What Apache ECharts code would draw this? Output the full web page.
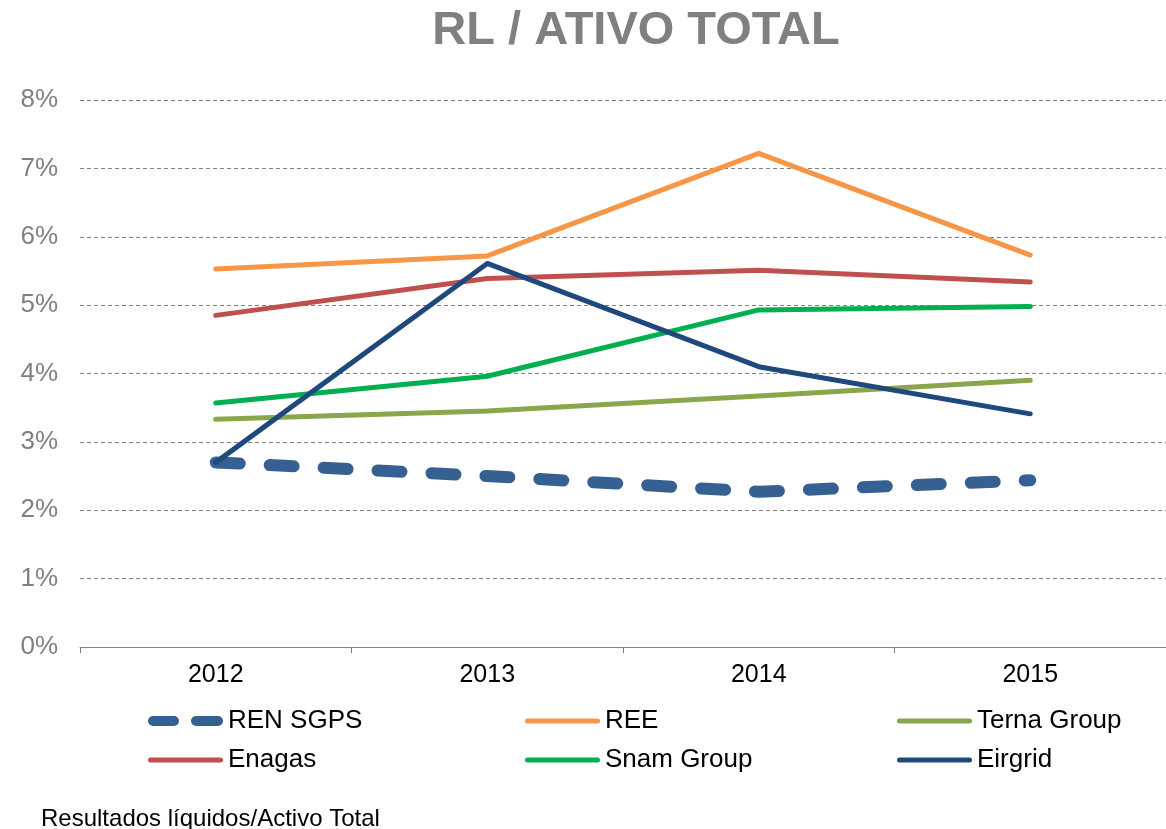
<!DOCTYPE html>
<html>
<head>
<meta charset="utf-8">
<script src="https://cdn.jsdelivr.net/npm/echarts@6/dist/echarts.min.js"></script>
<style>
html,body{margin:0;padding:0;background:#fff;}
#canvas{width:1166px;height:829px;}
</style>
</head>
<body>
<div id="canvas"></div>
<script>
var years = ["2012","2013","2014","2015"];
var renSgps = [2.70, 2.50, 2.27, 2.44];
var ree = [5.53, 5.72, 7.22, 5.73];
var terna = [3.33, 3.45, 3.67, 3.90];
var enagas = [4.85, 5.39, 5.51, 5.34];
var snam = [3.57, 3.96, 4.93, 4.98];
var eirgrid = [2.70, 5.61, 4.10, 3.41];

var font = "Liberation Sans, Arial, sans-serif";

// legend icons: rounded bars (two pills for the dashed series)
var dashIcon = 'path://M5,0 H26 A5,5 0 0 1 26,10 H5 A5,5 0 0 1 5,0 Z M48,0 H70 A5,5 0 0 1 70,10 H48 A5,5 0 0 1 48,0 Z';
var solidIcon = 'path://M2.5,0 H72.5 A2.5,2.5 0 0 1 72.5,5 H2.5 A2.5,2.5 0 0 1 2.5,0 Z';

function line(name, data, color, width, dash){
    var ls = {color: color, width: width, cap: 'round', join: 'round'};
    if(dash){ ls.type = dash; }
    return {
        name: name,
        type: 'line',
        data: data,
        symbol: 'none',
        itemStyle: {color: color},
        lineStyle: ls
    };
}

function legend(left, center, name, dashed){
    var h = dashed ? 10 : 5;
    return {
        left: left,
        top: center - 12,
        itemWidth: 75,
        itemHeight: h,
        icon: dashed ? dashIcon : solidIcon,
        symbolKeepAspect: false,
        padding: 0,
        data: [name],
        textStyle: {fontFamily: font, fontSize: 26, color: '#000'}
    };
}

var myChart = echarts.init(document.getElementById('canvas'));
myChart.setOption({
    animation: false,
    title: [{
        text: 'RL / ATIVO TOTAL',
        left: 631,
        textAlign: 'center',
        top: 3,
        textStyle: {fontFamily: font, fontSize: 47, fontWeight: 'bold', color: '#808080'}
    },{
        text: 'Resultados líquidos/Activo Total',
        left: 36,
        top: 802,
        textStyle: {fontFamily: font, fontSize: 24, fontWeight: 'normal', color: '#000'}
    }],
    legend: [
        legend(148, 720, 'REN SGPS', true),
        legend(148, 759, 'Enagas'),
        legend(525, 720, 'REE'),
        legend(525, 759, 'Snam Group'),
        legend(897, 720, 'Terna Group'),
        legend(897, 759, 'Eirgrid')
    ],
    grid: {left: 80, right: -2, top: 100, bottom: 182, containLabel: false},
    xAxis: {
        type: 'category',
        data: years,
        boundaryGap: true,
        axisLine: {lineStyle: {color: '#808080', width: 1}},
        axisTick: {show: true, length: 6, lineStyle: {color: '#808080'}},
        axisLabel: {fontFamily: font, fontSize: 25, color: '#000', margin: 16}
    },
    yAxis: {
        type: 'value',
        min: 0,
        max: 8,
        interval: 1,
        axisLine: {show: false},
        axisTick: {show: false},
        axisLabel: {fontFamily: font, fontSize: 26, color: '#808080', margin: 22,
            formatter: function(v){ return v + '%'; }},
        splitLine: {lineStyle: {color: '#808080', width: 1, type: [4,3]}}
    },
    series: [
        line('REN SGPS', renSgps, '#376092', 12, [24, 30]),
        line('REE', ree, '#F79646', 5),
        line('Terna Group', terna, '#8AA64C', 5),
        line('Enagas', enagas, '#C0504D', 5),
        line('Snam Group', snam, '#00B050', 5),
        line('Eirgrid', eirgrid, '#1F497D', 5)
    ]
});
</script>
</body>
</html>
